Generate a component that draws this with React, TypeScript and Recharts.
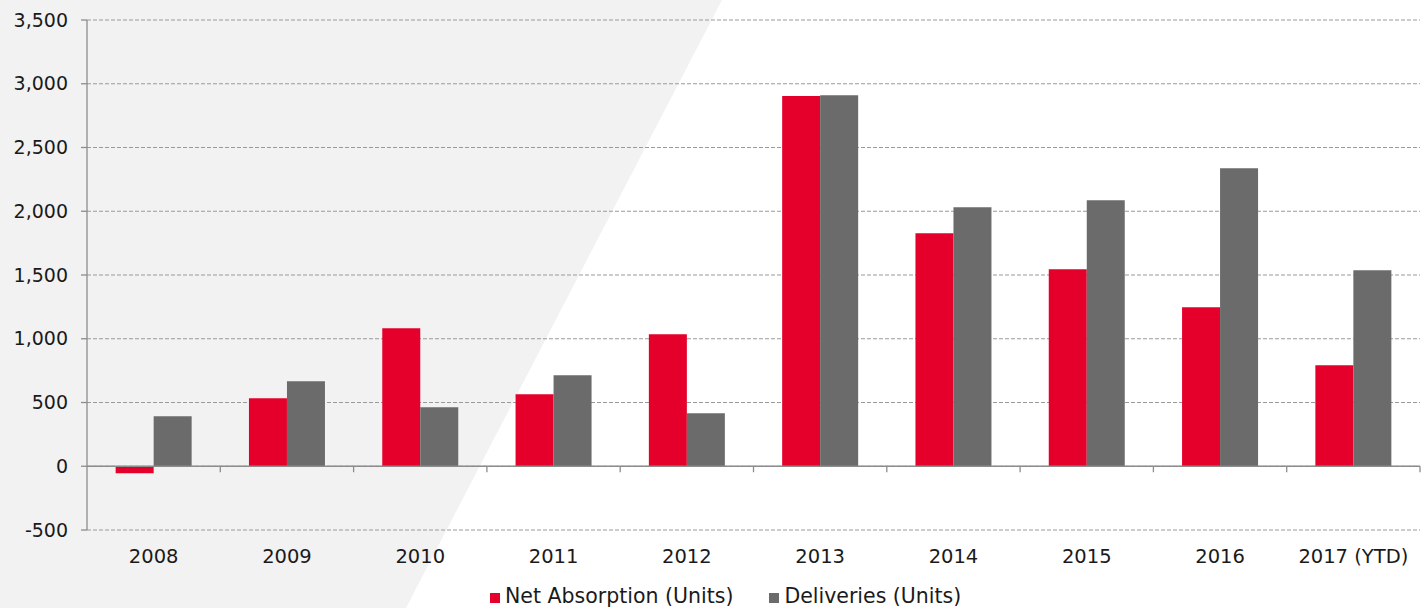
import React from "react";
import { BarChart, Bar, XAxis, YAxis, CartesianGrid, ReferenceLine } from "recharts";

const categories = ["2008", "2009", "2010", "2011", "2012", "2013", "2014", "2015", "2016", "2017 (YTD)"];
const netAbsorption = [-55, 533, 1082, 565, 1035, 2904, 1827, 1545, 1247, 792];
const deliveries = [392, 667, 463, 714, 416, 2910, 2031, 2086, 2337, 1537];
const yTicks = [-500, 0, 500, 1000, 1500, 2000, 2500, 3000, 3500];

const seriesNames = ["Net Absorption (Units)", "Deliveries (Units)"];
const seriesColors = ["#e4002b", "#6a6b6a"];

const W = 1427;
const H = 608;
const PLOT_LEFT = 87;
const PLOT_RIGHT = 1420;
const PLOT_TOP = 20;
const PLOT_BOTTOM = 530;
const BAND = (PLOT_RIGHT - PLOT_LEFT) / categories.length;
const Y0 = PLOT_TOP + ((PLOT_BOTTOM - PLOT_TOP) * 3500) / 4000;

const FONT = "'DejaVu Sans', sans-serif";
const AXIS = "#8c8c8c";

const data = categories.map((c, i) => ({
  year: c,
  net: netAbsorption[i],
  del: deliveries[i],
}));

function XTick(props: any) {
  const { x, y, payload } = props;
  const edge = x + BAND / 2;
  return (
    <g>
      <line x1={edge} x2={edge} y1={Y0} y2={Y0 + 6} stroke={AXIS} strokeWidth={1.3} />
      <text x={x} y={y} dy={33} textAnchor="middle" fill="#1a1a1a" fontSize={19.5} fontFamily={FONT}>
        {payload.value}
      </text>
    </g>
  );
}

export default function App() {
  return (
    <div style={{ position: "absolute", left: 0, top: 0, width: W, height: H, background: "#fff", overflow: "hidden" }}>
      <svg width={W} height={H} style={{ position: "absolute", left: 0, top: 0 }}>
        <polygon points="0,0 722,0 406,608 0,608" fill="#f2f2f2" />
      </svg>
      <div style={{ position: "absolute", left: 0, top: 0 }}>
        <BarChart
          width={W}
          height={H}
          data={data}
          margin={{ top: PLOT_TOP, right: W - PLOT_RIGHT, left: 0, bottom: 0 }}
          barCategoryGap="21.5%"
          barGap={0}
        >
          <CartesianGrid vertical={false} stroke="#9a9a9a" strokeDasharray="4 2" strokeWidth={1.2} />
          <XAxis
            dataKey="year"
            height={H - PLOT_BOTTOM}
            axisLine={false}
            tickLine={false}
            tickSize={0}
            tickMargin={0}
            interval={0}
            tick={<XTick />}
          />
          <YAxis
            width={PLOT_LEFT}
            domain={[-500, 3500]}
            ticks={yTicks}
            interval={0}
            stroke={AXIS}
            axisLine={{ stroke: AXIS, strokeWidth: 1.3 }}
            tickLine={{ stroke: AXIS, strokeWidth: 1.3 }}
            tickSize={6}
            tickMargin={13}
            tick={{ fill: "#1a1a1a", fontSize: 19, fontFamily: FONT }}
            tickFormatter={(v: number) => v.toLocaleString("en-US")}
          />
          <ReferenceLine y={0} stroke={AXIS} strokeWidth={1.5} />
          <Bar dataKey="net" name={seriesNames[0]} fill={seriesColors[0]} isAnimationActive={false} />
          <Bar dataKey="del" name={seriesNames[1]} fill={seriesColors[1]} isAnimationActive={false} />
        </BarChart>
      </div>
      <div
        style={{
          position: "absolute",
          left: 490,
          top: 585,
          height: 22,
          display: "flex",
          alignItems: "center",
          fontFamily: FONT,
          fontSize: 20.5,
          lineHeight: "22px",
          color: "#1a1a1a",
          whiteSpace: "nowrap",
        }}
      >
        {seriesNames.map((n, i) => (
          <div key={n} style={{ display: "flex", alignItems: "center", marginRight: 36 }}>
            <span style={{ display: "inline-block", width: 10, height: 10, background: seriesColors[i], marginRight: 5, marginTop: 4 }} />
            <span>{n}</span>
          </div>
        ))}
      </div>
    </div>
  );
}
